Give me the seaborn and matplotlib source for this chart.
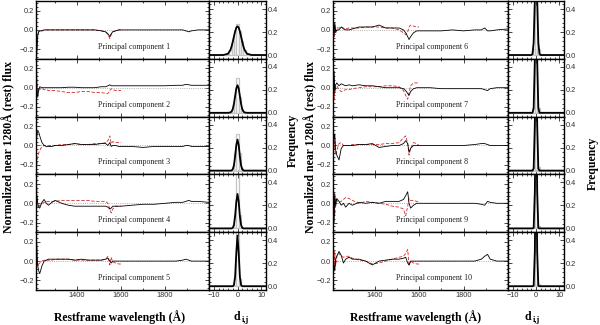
import numpy as np
import matplotlib
matplotlib.use("Agg")
import matplotlib.pyplot as plt
from matplotlib.ticker import MultipleLocator
import seaborn as sns

# =============================
# Data
# =============================
# restframe wavelength grid (A); red dashed curves stop at 1600 A
wave = [1215, 1218, 1221, 1225, 1230, 1240, 1250, 1260, 1270, 1285, 1300, 1330,
        1360, 1390, 1420, 1450, 1480, 1510, 1530, 1540, 1549, 1555, 1562, 1575,
        1590, 1600, 1650, 1700, 1750, 1800, 1850, 1880, 1895, 1908, 1920, 1950, 2000]
n_red = 26

pc1_black = [-0.30, -0.18, -0.06, -0.02, -0.01, -0.01, 0.0, 0.0, 0.0, 0.0, 0.0, 0.0, 0.0,
             0.0, 0.0, 0.0, 0.0, -0.01, -0.02, -0.04, -0.07, -0.04, -0.02, -0.01, 0.0, 0.0,
             0.0, 0.0, 0.0, 0.0, 0.0, 0.0, -0.01, -0.02, -0.01, 0.0, 0.0]
pc1_red = [-0.30, -0.15, -0.05, -0.02, -0.01, -0.01, 0.0, 0.0, 0.0, 0.0, 0.0, 0.0, 0.0,
           0.0, 0.0, 0.0, 0.0, -0.01, -0.02, -0.05, -0.09, -0.05, -0.02, -0.01, 0.0, 0.0]

pc2_black = [0.20, -0.05, -0.10, -0.02, 0.01, 0.0, 0.0, 0.0, 0.0, 0.0, 0.0, 0.0, 0.005,
             0.005, 0.0, 0.0, 0.0, 0.01, 0.01, 0.02, 0.03, 0.02, 0.02, 0.02, 0.02, 0.02,
             0.02, 0.02, 0.02, 0.02, 0.025, 0.025, 0.035, 0.03, 0.025, 0.025, 0.025]
pc2_red = [0.30, 0.05, -0.05, -0.03, -0.02, -0.01, -0.02, -0.02, -0.03, -0.03, -0.03, -0.04,
           -0.05, -0.05, -0.04, -0.04, -0.05, -0.05, -0.06, -0.06, -0.03, -0.01, -0.02,
           -0.03, -0.03, -0.03]

pc3_black = [0.05, 0.12, 0.15, 0.14, 0.10, 0.03, 0.0, -0.01, -0.01, -0.01, 0.0, 0.0, 0.01,
             0.02, 0.01, 0.01, 0.01, 0.02, 0.02, 0.0, 0.03, -0.01, 0.0, 0.0, -0.01, -0.01,
             -0.01, -0.02, -0.01, -0.01, -0.01, -0.01, 0.0, 0.0, -0.01, -0.01, -0.01]
pc3_red = [-0.25, -0.18, -0.12, -0.08, -0.05, -0.01, 0.0, 0.0, 0.0, 0.0, 0.0, 0.01, 0.01,
           0.02, 0.01, 0.01, 0.02, 0.02, 0.03, 0.05, 0.10, 0.02, 0.04, 0.03, 0.03, 0.03]

pc4_black = [0.08, 0.07, 0.0, -0.04, -0.05, 0.01, 0.04, 0.0, -0.02, 0.01, 0.03, 0.0, -0.02,
             -0.03, -0.03, -0.03, -0.03, -0.03, -0.03, -0.04, -0.06, -0.05, -0.03, -0.03,
             -0.03, -0.03, -0.02, -0.01, -0.01, 0.0, 0.01, 0.01, 0.02, 0.03, 0.02, 0.02, 0.01]
pc4_red = [0.25, 0.10, -0.03, -0.05, -0.02, 0.0, 0.01, 0.02, 0.02, 0.02, 0.02, 0.03, 0.03,
           0.03, 0.03, 0.03, 0.02, 0.02, 0.02, 0.0, -0.06, -0.10, -0.06, -0.03, -0.03, -0.03]

pc5_black = [0.25, 0.05, -0.05, -0.10, -0.13, -0.05, 0.0, 0.01, 0.02, 0.02, 0.02, 0.02, 0.02,
             0.01, 0.02, 0.01, 0.01, 0.01, 0.02, 0.03, 0.0, -0.02, 0.0, 0.0, 0.0, 0.0, 0.0,
             0.0, 0.0, 0.0, 0.0, 0.01, 0.02, 0.01, 0.0, 0.0, 0.0]
pc5_red = [0.30, 0.10, -0.05, -0.03, -0.02, 0.0, 0.01, 0.01, 0.01, 0.01, 0.02, 0.02, 0.02,
           0.01, 0.01, 0.01, 0.01, 0.01, 0.02, 0.05, -0.04, 0.04, -0.01, -0.02, -0.03, -0.03]

pc6_black = [0.10, -0.05, 0.08, -0.03, 0.0, 0.0, 0.03, 0.01, 0.0, 0.0, 0.01, 0.03, 0.03,
             0.03, 0.05, 0.02, 0.02, 0.02, 0.0, -0.03, -0.07, -0.10, -0.07, -0.03, -0.01,
             -0.01, -0.01, -0.01, 0.0, -0.01, 0.0, 0.0, 0.02, -0.01, -0.01, 0.0, 0.01]
pc6_red = [0.10, -0.07, 0.05, 0.0, 0.02, 0.02, 0.03, 0.02, 0.01, 0.02, 0.02, 0.02, 0.03,
           0.03, 0.03, 0.02, 0.02, 0.0, -0.03, -0.05, -0.02, 0.03, 0.05, 0.04, 0.03, 0.03]

pc7_black = [-0.15, 0.17, -0.05, 0.03, 0.05, 0.02, 0.04, 0.03, 0.02, 0.03, 0.02, 0.03, 0.02,
             0.02, 0.01, 0.0, 0.0, 0.0, -0.01, -0.03, -0.06, -0.08, -0.04, -0.01, 0.0, 0.0,
             0.0, -0.01, -0.01, -0.01, -0.01, -0.01, -0.02, -0.03, -0.01, 0.0, 0.0]
pc7_red = [0.20, -0.12, -0.05, 0.0, 0.02, -0.02, -0.04, -0.03, -0.02, -0.02, -0.01, 0.0,
           0.01, 0.01, 0.01, 0.02, 0.02, 0.01, -0.03, -0.08, -0.12, -0.05, 0.02, 0.05, 0.05, 0.04]

pc8_black = [-0.08, 0.10, 0.12, -0.05, -0.10, -0.15, -0.03, 0.0, 0.0, 0.0, 0.0, 0.01, 0.01,
             0.02, -0.02, -0.01, 0.0, 0.0, 0.02, 0.05, 0.02, -0.07, -0.03, 0.0, 0.0, 0.0, 0.0,
             0.0, 0.0, 0.0, 0.01, 0.02, 0.02, 0.01, 0.0, 0.0, 0.0]
pc8_red = [0.05, 0.10, -0.05, -0.10, -0.05, 0.02, 0.03, 0.0, 0.0, 0.0, 0.01, 0.01, 0.01,
           0.01, 0.01, 0.02, 0.02, 0.03, 0.08, 0.10, 0.02, -0.10, -0.03, 0.03, 0.02, 0.0]

pc9_black = [0.15, -0.20, 0.10, -0.03, 0.05, 0.02, -0.02, 0.0, -0.04, 0.0, -0.02, 0.01, 0.0,
             0.01, 0.0, 0.02, 0.02, 0.02, 0.04, 0.08, 0.12, 0.0, -0.05, -0.02, 0.0, 0.0, 0.0,
             0.0, 0.0, 0.0, 0.0, -0.01, -0.02, 0.02, 0.01, 0.0, 0.0]
pc9_red = [-0.18, 0.10, -0.12, 0.05, 0.03, 0.01, 0.02, 0.04, 0.06, 0.05, 0.03, 0.0, 0.02,
           0.01, 0.0, -0.01, -0.03, -0.04, -0.06, -0.13, -0.03, 0.05, 0.03, 0.03, 0.02, 0.01]

pc10_black = [-0.13, -0.05, -0.10, 0.02, 0.05, 0.10, 0.06, -0.02, 0.02, 0.04, 0.02, 0.02,
              0.0, -0.04, 0.0, 0.01, 0.02, 0.02, 0.03, 0.04, -0.02, -0.04, 0.0, 0.0, 0.0,
              0.0, 0.0, 0.0, 0.0, 0.0, 0.0, 0.02, 0.05, 0.07, 0.02, 0.0, 0.0]
pc10_red = [0.20, -0.10, 0.10, -0.05, 0.05, 0.08, 0.05, 0.04, 0.05, 0.05, 0.03, 0.01, 0.0,
            -0.03, -0.02, 0.0, 0.02, 0.04, 0.05, 0.08, 0.12, -0.05, 0.0, -0.02, -0.03, -0.03]

# distribution of d_ij: histogram (grey) and gaussian fit (black)
d_bins = [-4, -3, -2, -1, 0, 1, 2, 3, 4]
hist1 = [0.01, 0.04, 0.12, 0.21, 0.27, 0.21, 0.12, 0.04, 0.01]
hist2 = [0.0, 0.005, 0.03, 0.14, 0.30, 0.14, 0.03, 0.005, 0.0]
hist3 = [0.0, 0.0, 0.02, 0.15, 0.32, 0.15, 0.02, 0.0, 0.0]
hist4 = [0.0, 0.0, 0.01, 0.12, 0.55, 0.12, 0.01, 0.0, 0.0]
hist5 = [0.0, 0.0, 0.0, 0.06, 0.70, 0.06, 0.0, 0.0, 0.0]
hist6 = [0.0, 0.0, 0.0, 0.05, 0.85, 0.05, 0.0, 0.0, 0.0]
hist7 = [0.0, 0.0, 0.0, 0.04, 0.90, 0.04, 0.0, 0.0, 0.0]
hist8 = [0.0, 0.0, 0.0, 0.03, 0.92, 0.03, 0.0, 0.0, 0.0]
hist9 = [0.0, 0.0, 0.0, 0.02, 0.95, 0.02, 0.0, 0.0, 0.0]
hist10 = [0.0, 0.0, 0.0, 0.02, 0.95, 0.02, 0.0, 0.0, 0.0]

d_fit = [-12, -6, -4, -3, -2.5, -2, -1.5, -1, -0.5, 0, 0.5, 1, 1.5, 2, 2.5, 3, 4, 6, 12]
fit1 = [0, 0, 0.011, 0.043, 0.074, 0.115, 0.161, 0.205, 0.238, 0.25, 0.238, 0.205, 0.161,
        0.115, 0.074, 0.043, 0.011, 0, 0]
fit2 = [0, 0, 0, 0.003, 0.011, 0.032, 0.078, 0.146, 0.212, 0.24, 0.212, 0.146, 0.078,
        0.032, 0.011, 0.003, 0, 0, 0]
fit3 = [0, 0, 0, 0, 0.001, 0.012, 0.046, 0.124, 0.222, 0.27, 0.222, 0.124, 0.046, 0.012,
        0.001, 0, 0, 0, 0]
fit4 = [0, 0, 0, 0, 0, 0.005, 0.03, 0.108, 0.232, 0.30, 0.232, 0.108, 0.03, 0.005, 0, 0, 0, 0, 0]
fit5 = [0, 0, 0, 0, 0, 0, 0.01, 0.084, 0.29, 0.44, 0.29, 0.084, 0.01, 0, 0, 0, 0, 0, 0]
fit6 = [0, 0, 0, 0, 0, 0, 0.009, 0.108, 0.485, 0.8, 0.485, 0.108, 0.009, 0, 0, 0, 0, 0, 0]
fit7 = [0, 0, 0, 0, 0, 0, 0, 0.044, 0.458, 1.0, 0.458, 0.044, 0, 0, 0, 0, 0, 0, 0]
fit8 = [0, 0, 0, 0, 0, 0, 0, 0.019, 0.40, 1.1, 0.40, 0.019, 0, 0, 0, 0, 0, 0, 0]
fit9 = [0, 0, 0, 0, 0, 0, 0, 0.005, 0.32, 1.3, 0.32, 0.005, 0, 0, 0, 0, 0, 0, 0]
fit10 = [0, 0, 0, 0, 0, 0, 0, 0.004, 0.30, 1.3, 0.30, 0.004, 0, 0, 0, 0, 0, 0, 0]

components = [
    (pc1_black, pc1_red, hist1, fit1), (pc2_black, pc2_red, hist2, fit2),
    (pc3_black, pc3_red, hist3, fit3), (pc4_black, pc4_red, hist4, fit4),
    (pc5_black, pc5_red, hist5, fit5), (pc6_black, pc6_red, hist6, fit6),
    (pc7_black, pc7_red, hist7, fit7), (pc8_black, pc8_red, hist8, fit8),
    (pc9_black, pc9_red, hist9, fit9), (pc10_black, pc10_red, hist10, fit10),
]

# =============================
# Style
# =============================
sns.set_style("ticks")
plt.rcParams["font.family"] = ["Liberation Sans", "DejaVu Sans"]
plt.rcParams["xtick.direction"] = "in"
plt.rcParams["ytick.direction"] = "in"
SERIF = ["Liberation Serif", "DejaVu Serif"]
RED = "#d42a2a"

W, H = 600, 325
ROW = 57.8


def box(x0, x1, r):
    top = 1 + ROW * r
    return [x0 / W, 1 - (top + ROW) / H, (x1 - x0) / W, ROW / H]


def style_ticks(ax):
    ax.tick_params(which="both", top=True, right=True, width=0.6,
                   labelsize=5.3, labelcolor="#333333", pad=1.5)
    ax.tick_params(which="major", length=3)
    ax.tick_params(which="minor", length=1.5)
    for s in ax.spines.values():
        s.set_linewidth(1.0)
        s.set_color("black")


fig = plt.figure(figsize=(6, 3.25), dpi=100)

groups = [(36, 209, 266), (333, 508, 564)]
bins = [float(b) for b in np.arange(-12.5, 13, 1)]

for g, (xs0, xs1, xh1) in enumerate(groups):
    for r in range(5):
        k = g * 5 + r
        black, red, hist, fit = components[k]
        last = r == 4

        # ---- spectrum panel
        ax = fig.add_axes(box(xs0, xs1, r))
        ax.axhline(0, color="#999999", ls=":", lw=0.6)
        sns.lineplot(x=wave[:n_red], y=red, ax=ax, color=RED, lw=0.6,
                     linestyle=(0, (4, 2)))
        sns.lineplot(x=wave, y=black, ax=ax, color="black", lw=0.6)
        ax.set_xlim(1213, 2000)
        ax.set_ylim(-0.3, 0.3)
        ax.set_xticks([1400, 1600, 1800])
        ax.xaxis.set_minor_locator(MultipleLocator(100))
        ax.set_yticks([-0.2, 0.0, 0.2])
        ax.yaxis.set_minor_locator(MultipleLocator(0.04))
        style_ticks(ax)
        ax.tick_params(axis="x", labelbottom=last)
        ax.set_xlabel("")
        ax.set_ylabel("")
        ax.text(1495, -0.175, f"Principal component {k + 1}", fontsize=5.8,
                family=SERIF, ha="left", va="center", color="#222222")

        # ---- d_ij distribution panel
        ah = fig.add_axes(box(xs1, xh1, r))
        sns.histplot(x=d_bins, weights=hist, bins=bins, element="bars", fill=False,
                     color="#c4c4c4", linewidth=0.9, ax=ah)
        sns.lineplot(x=d_fit, y=fit, ax=ah, color="black", lw=1.3)
        ah.set_xlim(-12, 12)
        ah.set_ylim(-0.033, 0.47)
        ah.set_xticks([-10, 0, 10])
        ah.xaxis.set_minor_locator(MultipleLocator(2))
        ah.set_yticks([0.0, 0.2, 0.4])
        ah.yaxis.set_minor_locator(MultipleLocator(0.04))
        style_ticks(ah)
        ah.tick_params(axis="y", labelleft=False, labelright=True)
        ah.tick_params(axis="x", labelbottom=last)
        ah.set_xlabel("")
        ah.set_ylabel("")

# =============================
# Axis titles
# =============================
lab = dict(family=SERIF, fontweight="bold", fontsize=8.5, color="black")
ymid = 1 - 147 / H
fig.text(9 / W, ymid, "Normalized near 1280Å (rest) flux", rotation=90,
         ha="center", va="center", **lab)
fig.text(311 / W, ymid, "Normalized near 1280Å (rest) flux", rotation=90,
         ha="center", va="center", **lab)
fig.text(293 / W, 1 - 140 / H, "Frequency", rotation=90, ha="center", va="center", **lab)
fig.text(593 / W, 1 - 163 / H, "Frequency", rotation=90, ha="center", va="center", **lab)

ylab = 1 - 317 / H
fig.text(120 / W, ylab, "Restframe wavelength (Å)", ha="center", va="center", **lab)
fig.text(416 / W, ylab, "Restframe wavelength (Å)", ha="center", va="center", **lab)
for xd in (240, 531):
    fig.text(xd / W, ylab, "d", ha="right", va="center", **lab)
    fig.text((xd + 1.5) / W, ylab - 3 / H, "i,j", ha="left", va="center",
             family=SERIF, fontweight="bold", fontsize=6, color="black")

fig.savefig("out.png", dpi=100)
